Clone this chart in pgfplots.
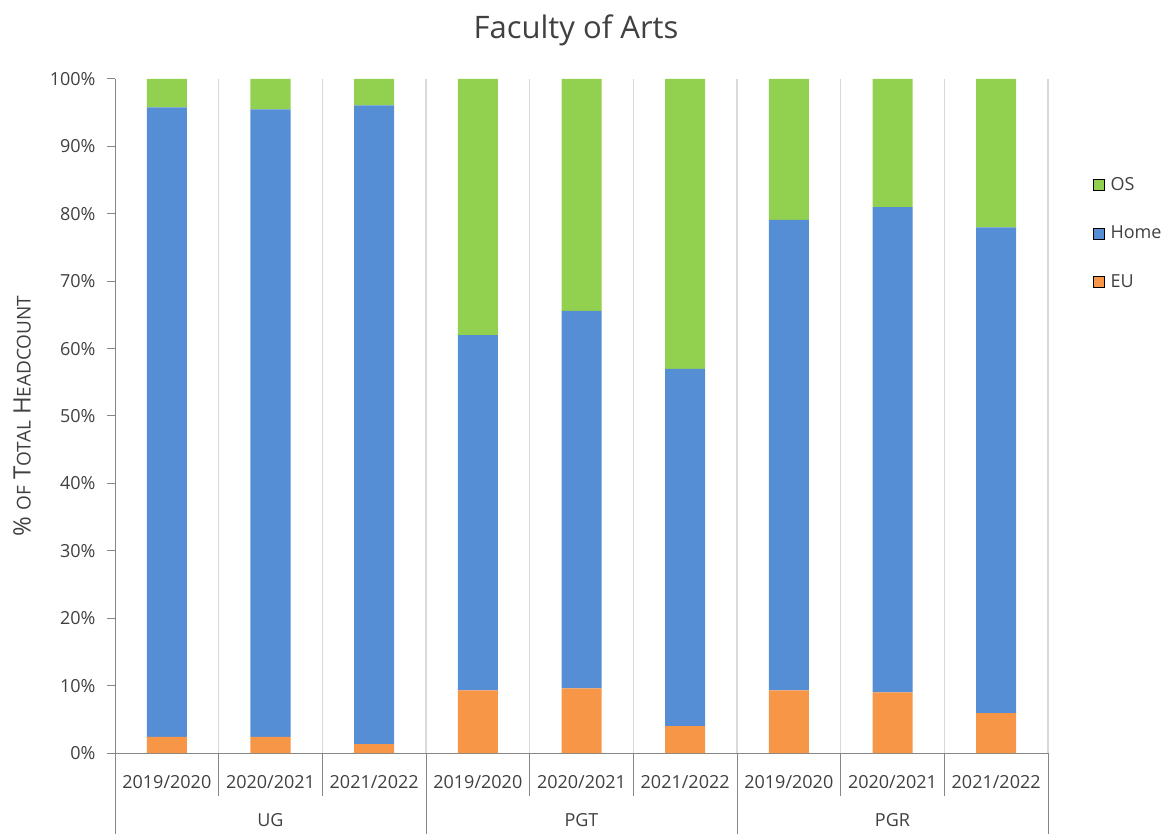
\documentclass[border=0pt]{standalone}
\usepackage{fontspec}
\setmainfont{Open Sans}
\usepackage{pgfplots}
\pgfplotsset{compat=1.18}
\definecolor{osgreen}{RGB}{146,208,80}
\definecolor{homeblue}{RGB}{85,142,213}
\definecolor{euorange}{RGB}{247,150,70}
\definecolor{axgray}{RGB}{134,134,134}
\definecolor{gridgray}{RGB}{217,217,217}
\definecolor{txt}{RGB}{64,64,64}
\newcommand{\sm}[1]{{\fontsize{19}{19}\selectfont #1}}
\begin{document}
\begin{tikzpicture}[x=1pt,y=1pt]
\path[use as bounding box] (0,0) rectangle (1166,833);
\node[text=txt, font=\fontsize{31}{31}\selectfont] at (576,803) {Faculty of Arts};
\begin{axis}[
 at={(115pt,80pt)}, anchor=south west,
 scale only axis, width=933pt, height=674pt,
 ybar stacked, bar width=40pt,
 xmin=-0.5, xmax=8.5, ymin=0, ymax=100,
 axis x line*=bottom, axis y line*=left,
 axis line style={-, draw=axgray, line width=1pt},
 clip=false,
 font=\fontsize{18}{18}\selectfont,
 /pgf/number format/assume math mode=true,
 ytick={0,10,...,100},
 yticklabel={\pgfmathprintnumber{\tick}\%},
 yticklabel style={text=txt, xshift=-8pt},
 major y tick style={draw=axgray, line width=1pt},
 tick align=outside, major tick length=8pt,
 xtick={0,...,8},
 xticklabels={2019/2020,2020/2021,2021/2022,2019/2020,2020/2021,2021/2022,2019/2020,2020/2021,2021/2022},
 major x tick style={draw=none},
 xticklabel style={anchor=center, yshift=-21pt, text=txt},
 minor xtick={0.5,1.5,2.5,3.5,4.5,5.5,6.5,7.5,8.5},
 minor tick length=0pt,
 xminorgrids=true,
 minor grid style={draw=gridgray, line width=1.5pt},
 ylabel={\fontsize{24}{24}\selectfont\% \sm{OF} T\sm{OTAL} H\sm{EADCOUNT}},
 ylabel style={at={(axis description cs:-0.0997,0.5)}, anchor=center, text=txt},
 legend style={at={(1.045,0.86)}, anchor=north west, draw=none, fill=none,
   row sep=30pt, text=txt, font=\fontsize{18}{18}\selectfont,
   nodes={inner xsep=6pt}},
 legend cell align=left,
 legend image code/.code={\fill[#1] (0pt,-5.5pt) rectangle (11pt,5.5pt);},
]
\addplot[fill=euorange, draw=none, forget plot] coordinates {(0,2.4) (1,2.4) (2,1.3) (3,9.3) (4,9.6) (5,4.0) (6,9.3) (7,9.0) (8,5.9)};
\addplot[fill=homeblue, draw=none, forget plot] coordinates {(0,93.4) (1,93.1) (2,94.8) (3,52.7) (4,56.0) (5,53.0) (6,69.8) (7,72.0) (8,72.1)};
\addplot[fill=osgreen, draw=none, forget plot] coordinates {(0,4.2) (1,4.5) (2,3.9) (3,38.0) (4,34.4) (5,43.0) (6,20.9) (7,19.0) (8,22.0)};
\addlegendimage{fill=osgreen}
\addlegendentry{OS}
\addlegendimage{fill=homeblue}
\addlegendentry{Home}
\addlegendimage{fill=euorange}
\addlegendentry{EU}
\foreach \s in {0.5,1.5,3.5,4.5,6.5,7.5} {
  \edef\tmp{\noexpand\draw[axgray, line width=1pt] (axis cs:\s,0) -- ++(0pt,-43pt);}\tmp
}
\foreach \s in {-0.5,2.5,5.5,8.5} {
  \edef\tmp{\noexpand\draw[axgray, line width=1pt] (axis cs:\s,0) -- ++(0pt,-85pt);}\tmp
}
\node[text=txt] at (axis cs:1,0) [yshift=-67pt] {UG};
\node[text=txt] at (axis cs:4,0) [yshift=-67pt] {PGT};
\node[text=txt] at (axis cs:7,0) [yshift=-67pt] {PGR};
\end{axis}
\end{tikzpicture}
\end{document}
